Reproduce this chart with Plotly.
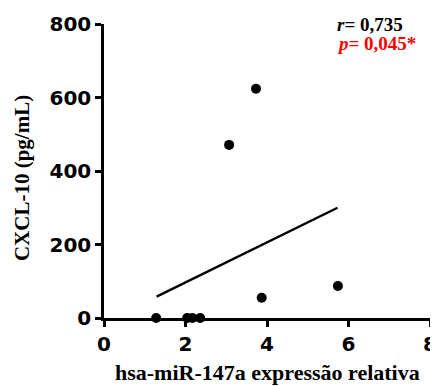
import plotly.graph_objects as go

# Data
expr_x = [1.28, 2.04, 2.17, 2.36, 3.07, 3.73, 3.87, 5.74]
cxcl10_y = [0, 0, 0, 0, 471, 624, 55, 87]
fit_x = [1.29, 5.73]
fit_y = [58, 300]
x_ticks = [0, 2, 4, 6, 8]
y_ticks = [0, 200, 400, 600, 800]

fig = go.Figure()
fig.add_trace(go.Scatter(x=fit_x, y=fit_y, mode="lines",
                         line=dict(color="black", width=2.4),
                         cliponaxis=False, hoverinfo="skip"))
fig.add_trace(go.Scatter(x=expr_x, y=cxcl10_y, mode="markers",
                         marker=dict(color="black", size=10),
                         cliponaxis=False))

tickfont = dict(family="DejaVu Sans, Arial, sans-serif", size=20, color="black")
serif = "Liberation Serif, Times New Roman, serif"

# page body has an 8px margin, so the figure is 8px smaller than the window
fig.update_layout(
    width=430, height=378,
    margin=dict(l=96, r=8, t=16, b=68),
    plot_bgcolor="white", paper_bgcolor="white",
    showlegend=False,
    xaxis=dict(range=[0, 8], tickvals=x_ticks, ticktext=["<b>%d</b>" % v for v in x_ticks],
               tickfont=tickfont, showline=True, linecolor="black", linewidth=2.5,
               ticks="outside", ticklen=6, tickwidth=2.5, tickcolor="black",
               showgrid=False, zeroline=False, automargin=False),
    yaxis=dict(range=[0, 800], tickvals=y_ticks, ticktext=["<b>%d</b>" % v for v in y_ticks],
               tickfont=tickfont, showline=True, linecolor="black", linewidth=2.5,
               ticks="outside", ticklen=6, tickwidth=2.5, tickcolor="black",
               showgrid=False, zeroline=False, automargin=False),
)

# axis titles
fig.add_annotation(xref="paper", yref="paper", x=0.5, y=-0.187, xanchor="center", yanchor="middle",
                   text="<b>hsa-miR-147a expressão relativa</b>", showarrow=False,
                   font=dict(family=serif, size=22, color="black"))
fig.add_annotation(xref="paper", yref="paper", x=-0.2515, y=0.476, xanchor="center", yanchor="middle",
                   text="<b>CXCL-10 (pg/mL)</b>", showarrow=False, textangle=-90,
                   font=dict(family=serif, size=21, color="black"))

# statistics
fig.add_annotation(xref="paper", yref="paper", x=0.709, y=0.9966, xanchor="left", yanchor="middle",
                   text="<b><i>r</i>= 0,735</b>", showarrow=False,
                   font=dict(family=serif, size=19, color="black"))
fig.add_annotation(xref="paper", yref="paper", x=0.709, y=0.935, xanchor="left", yanchor="middle",
                   text="<b><i>p</i>= 0,045*</b>", showarrow=False,
                   font=dict(family=serif, size=19, color="red"))

fig.write_html("out.html")
